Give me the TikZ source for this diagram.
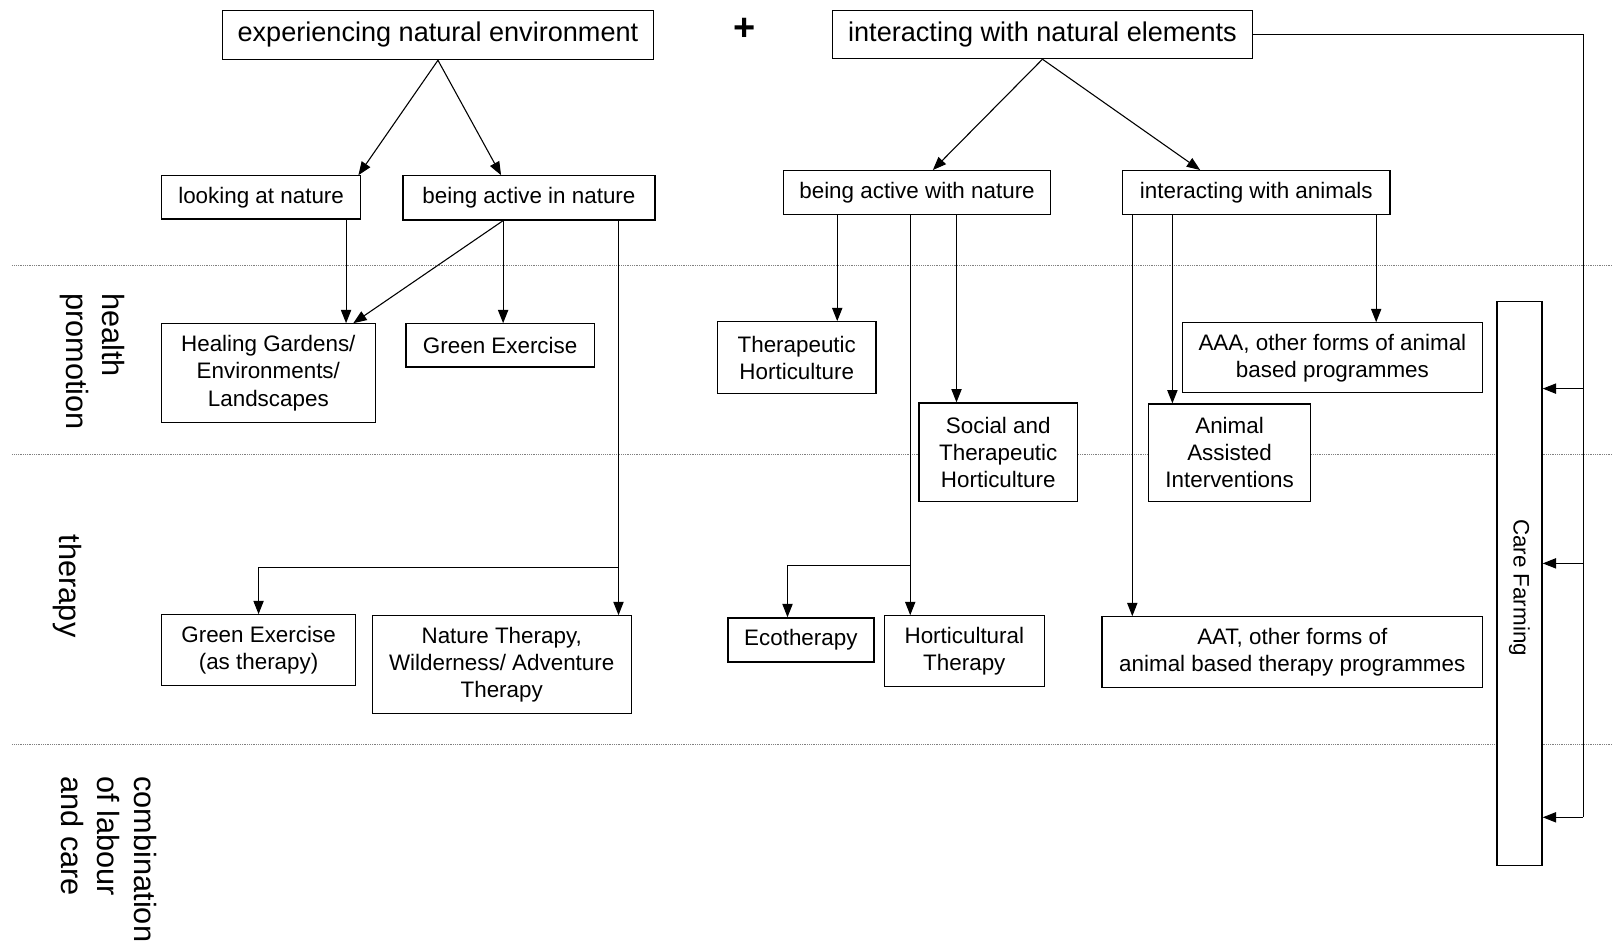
\documentclass[tikz,border=0pt]{standalone}
\usepackage{fontspec}
\setmainfont{Liberation Sans}
\usetikzlibrary{arrows.meta,calc}

\begin{document}
\begin{tikzpicture}[
        box/.style = {draw, fill=white, line width=0.7pt, align=center, inner sep=1pt, font=\fontsize{12.4}{15}\selectfont},
        topbox/.style = {box, font=\fontsize{15}{18}\selectfont},
        arr/.style = {draw, line width=0.6pt, -{Triangle[length=2.6mm,width=2mm]}},
        link/.style = {draw, line width=0.6pt},
        level/.style = {draw=gray, line width=0.6pt, dash pattern=on 0.5pt off 0.5pt},
        side/.style = {rotate=-90, anchor=west, align=left, inner sep=0pt, font=\fontsize{17}{20}\selectfont}
    ]
        \path[use as bounding box](0,0)rectangle(31.36,-18.42);
        % levels
        \path[level](0.24,-5.16)to(31.36,-5.16);
        \path[level](0.24,-8.84)to(31.36,-8.84);
        \path[level](0.24,-14.48)to(31.36,-14.48);
        \node[side](hp)at(1.8,-5.7){health\\promotion};
        \node[side](th)at(1.32,-10.4){therapy};
        \node[side](lc)at(2.12,-15.1){combination\\of labour\\and care};
        % top
        \node[topbox,minimum width=8.38cm,minimum height=0.96cm](expe)at(8.52,-0.68){experiencing natural environment};
        \node[font=\fontsize{21}{21}\selectfont\bfseries](plus)at(14.48,-0.58){+};
        \node[topbox,minimum width=8.16cm,minimum height=0.94cm](inte)at(20.28,-0.67){interacting with natural elements};
        % second row
        \node[box,minimum width=3.88cm,minimum height=0.84cm](look)at(5.08,-3.84){looking at nature};
        \node[box,minimum width=4.9cm,minimum height=0.86cm](actin)at(10.29,-3.85){being active in nature};
        \node[box,minimum width=5.2cm,minimum height=0.86cm](actwith)at(17.84,-3.75){being active with nature};
        \node[box,minimum width=5.2cm,minimum height=0.86cm](animals)at(24.44,-3.75){interacting with animals};
        % health promotion
        \node[box,minimum width=4.16cm,minimum height=1.92cm](heal)at(5.22,-7.26){Healing Gardens/\\Environments/\\Landscapes};
        \node[box,minimum width=3.66cm,minimum height=0.84cm](green)at(9.73,-6.72){Green Exercise};
        \node[box,minimum width=3.08cm,minimum height=1.4cm](ther)at(15.5,-6.96){Therapeutic\\Horticulture};
        \node[box,minimum width=3.08cm,minimum height=1.92cm](social)at(19.42,-8.8){Social and\\Therapeutic\\Horticulture};
        \node[box,minimum width=5.84cm,minimum height=1.36cm](aaa)at(25.92,-6.96){AAA, other forms of animal\\based programmes};
        \node[box,minimum width=3.16cm,minimum height=1.9cm](aai)at(23.92,-8.81){Animal\\Assisted\\Interventions};
        % therapy
        \node[box,minimum width=3.78cm,minimum height=1.38cm](greenth)at(5.03,-12.65){Green Exercise\\(as therapy)};
        \node[box,minimum width=5.04cm,minimum height=1.9cm](nature)at(9.76,-12.93){Nature Therapy,\\Wilderness/ Adventure\\Therapy};
        \node[box,minimum width=2.84cm,minimum height=0.86cm](eco)at(15.58,-12.45){Ecotherapy};
        \node[box,minimum width=3.12cm,minimum height=1.38cm](hort)at(18.76,-12.67){Horticultural\\Therapy};
        \node[box,minimum width=7.4cm,minimum height=1.38cm](aat)at(25.14,-12.69){AAT, other forms of\\animal based therapy programmes};
        % care farming
        \node[box,minimum width=0.88cm,minimum height=10.98cm](care)at(29.56,-11.35){};
        \node[rotate=-90,font=\fontsize{12.4}{15}\selectfont](caretxt)at([yshift=-0.08cm]care.center){Care Farming};
        % from the top boxes
        \path[arr](expe.south)to([xshift=-0.06cm]look.north east);
        \path[arr](expe.south)to([xshift=1.92cm]actin.north west);
        \path[arr](inte.south)to([xshift=2.92cm]actwith.north west);
        \path[arr](inte.south)to([xshift=1.52cm]animals.north west);
        % looking at / being active in nature
        \coordinate(l1)at([xshift=-0.3cm]look.south east);
        \path[arr](l1)to(l1|-heal.north);
        \coordinate(a1)at([xshift=1.96cm]actin.south west);
        \path[arr](a1)to([xshift=-0.44cm]heal.north east);
        \path[arr](a1)to(a1|-green.north);
        \coordinate(a2)at([xshift=-0.72cm]actin.south east);
        \path[arr](a2)to(a2|-nature.north);
        \coordinate(b1)at($(a2|-greenth.north)+(0,0.9)$);
        \path[arr](b1)-|(greenth.north);
        % being active with nature
        \coordinate(w1)at([xshift=1.06cm]actwith.south west);
        \path[arr](w1)to(w1|-ther.north);
        \coordinate(w2)at([xshift=2.48cm]actwith.south west);
        \path[arr](w2)to(w2|-hort.north);
        \coordinate(b2)at($(w2|-hort.north)+(0,0.96)$);
        \path[arr](b2)-|([xshift=-0.26cm]eco.north);
        \coordinate(w3)at([xshift=3.38cm]actwith.south west);
        \path[arr](w3)to(w3|-social.north);
        % interacting with animals
        \coordinate(n1)at([xshift=0.2cm]animals.south west);
        \path[arr](n1)to(n1|-aat.north);
        \coordinate(n2)at([xshift=0.98cm]animals.south west);
        \path[arr](n2)to(n2|-aai.north);
        \coordinate(n3)at([xshift=-0.28cm]animals.south east);
        \path[arr](n3)to(n3|-aaa.north);
        % care farming
        \coordinate(c1)at(30.8,-7.56);
        \coordinate(c2)at(30.8,-10.96);
        \coordinate(c3)at(30.8,-15.9);
        \path[link](inte.east)-|(c3);
        \path[arr](c1)to(c1-|care.east);
        \path[arr](c2)to(c2-|care.east);
        \path[arr](c3)to(c3-|care.east);
    \end{tikzpicture}
\end{document}
